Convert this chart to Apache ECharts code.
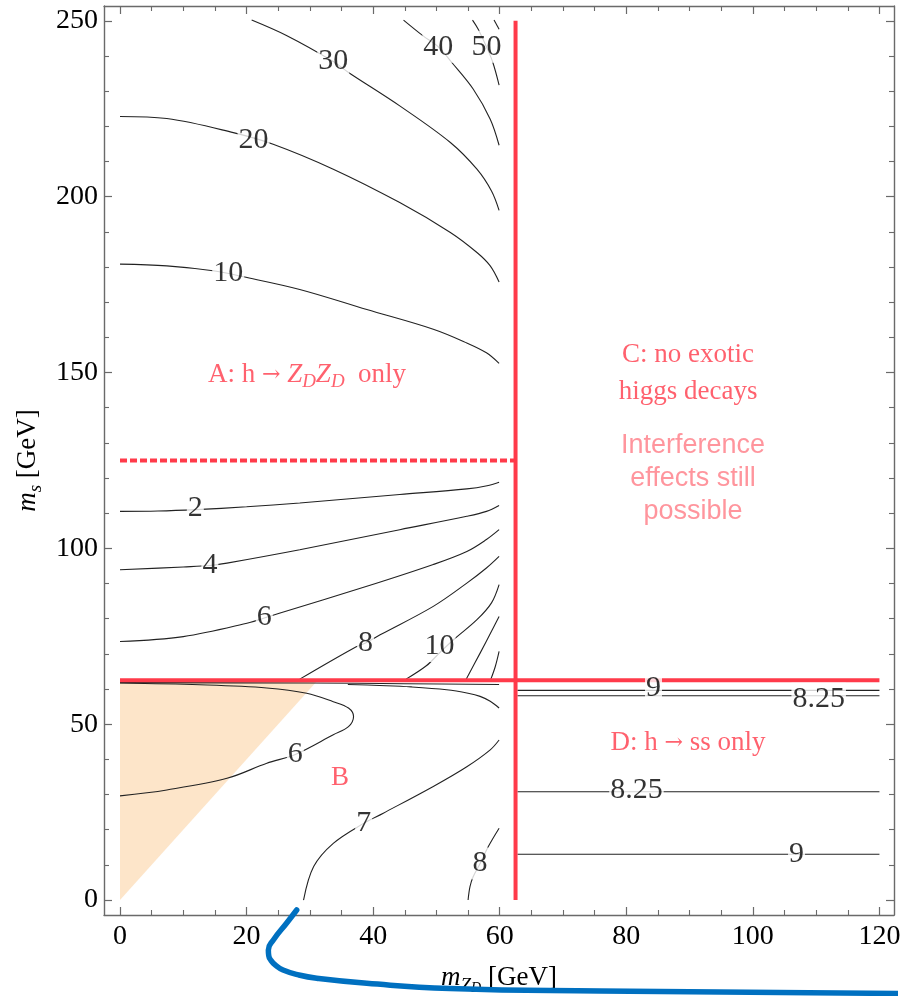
<!DOCTYPE html>
<html><head><meta charset="utf-8">
<script src="https://cdn.jsdelivr.net/npm/echarts@6/dist/echarts.min.js"></script>
<style>html,body{margin:0;padding:0;background:#fff}#c{width:900px;height:996px}</style>
</head><body><div id="c"></div>
<script>
// ---- axes ----
const X_RANGE = [-2.53, 122.3];
const Y_RANGE = [-4.26, 254.2];
const X_MAJOR = [0, 20, 40, 60, 80, 100, 120];
const X_MINOR = [5, 10, 15, 25, 30, 35, 45, 50, 55, 65, 70, 75, 85, 90, 95, 105, 110, 115];
const Y_MAJOR = [0, 50, 100, 150, 200, 250];
const Y_MINOR = [10, 20, 30, 40, 60, 70, 80, 90, 110, 120, 130, 140, 160, 170, 180, 190, 210, 220, 230, 240];

// ---- contour lines (region A, above the lines) ----
const c10 = [[0,180.8],[7.4,180.3],[14.7,178.9],[19.5,177.2],[28.4,173.6],[39,167.9],[49.5,162.3],[54.8,158.4],[57.9,155.6],[59.9,152.6]];
const c20 = [[0,222.8],[7.4,222.2],[17.9,218.2],[24.2,214.9],[33.7,207.8],[44.2,198.3],[52.2,189.8],[56.4,184.1],[58.5,180.3],[59.9,175.7]];
const c30 = [[20.8,250.2],[26.3,245.8],[33.7,238.4],[36.1,235.3],[44.2,225.8],[52.2,215.4],[56.4,207.8],[58.7,201.6],[59.9,196.1]];
const c40 = [[44.8,250.2],[47.9,245.7],[50.3,242.6],[52.4,238.2],[55.8,230.6],[58.5,222.0],[59.9,214.6]];
const c50 = [[55.7,250.2],[56.6,247.6],[57.9,242.6],[58.9,238.2],[59.9,231.7]];
const c50b = [[59.1,250.2],[59.9,247.6]];
const c2 = [[0,110.5],[6,110.6],[12,111.0],[20,111.8],[28.4,112.9],[44.2,115.3],[54.8,116.9],[58,117.8],[59.9,118.8]];
const c4 = [[0,93.9],[10,94.7],[14.2,95.1],[16.9,95.8],[28.4,99.6],[44.2,105.3],[54.8,109.1],[57.9,110.5],[59.9,112.2]];
const c6a = [[0,73.5],[10,74.9],[20.5,78.9],[22.8,80.2],[25.3,81.6],[39,89.2],[49.5,95.4],[54.8,99.1],[57.9,102.5],[59.9,105.3]];
const c8a = [[28.4,62.8],[36.9,71.6],[38.8,73.1],[41.1,75.4],[49.5,83.5],[54.8,90.1],[57.9,94.4],[59.9,97.7]];
const c10b = [[45.2,62.8],[48.4,66.6],[50.5,70.3],[52.7,74.0],[56.4,79.7],[58.7,84.5],[59.9,89.7]];
const c12 = [[54.7,62.8],[56.9,70.2],[58.7,76.4],[59.9,80.6]];
const c14 = [[58.6,62.8],[59.3,66.4],[59.9,70.7]];
// ---- region B ----
const c6b = [[0,61.7],[12.6,61.2],[23.2,60.3],[29.5,58.8],[33.7,56.4],[36.1,54.6],[36.9,52.2],[36.1,49.3],[33.7,47.0],[27.7,41.4],[23.2,38.9],[16.9,34.6],[7.4,31.3],[0,29.6]];
const cL1 = [[0,61.8],[30,61.7],[45,61.5],[59.9,61.3]];
const cL3 = [[36,61.3],[41,61.0],[46,60.6],[51.6,59.8],[55,58.8],[56.9,57.9],[58.5,56.5],[59.9,54.6]];
const c7 = [[29,0],[30.6,9.5],[33.7,16.1],[38.5,21.8],[41.6,24.7],[49.5,32.3],[54.8,37.9],[58.5,42.7],[59.9,45.5]];
const c8b = [[55.0,0],[55.3,3.8],[55.8,6.6],[56.9,10.4],[58.2,15.2],[59.9,20.4]];
// ---- region D ----
const c9a = [[62.8,59.6],[120,59.6]];
const c825a = [[62.8,58.1],[120,58.1]];
const c825b = [[62.8,30.8],[120,30.8]];
const c9b = [[62.8,13.0],[120,13.0]];
const CONTOURS = [c10,c20,c30,c40,c50,c50b,c2,c4,c6a,c8a,c10b,c12,c14,c6b,cL1,cL3,c7,c8b,c9a,c825a,c825b,c9b];

// contour labels [x, y, text]
const CONTOUR_LABELS = [[17.1,178.2,'10'],[21.1,216.1,'20'],[33.7,238.4,'30'],[50.3,242.6,'40'],[57.9,242.6,'50'],
  [11.9,111.4,'2'],[14.2,95.1,'4'],[22.8,80.3,'6'],[38.8,73.1,'8'],[50.5,72.2,'10'],
  [27.7,41.4,'6'],[38.5,21.9,'7'],[56.9,10.4,'8'],
  [84.3,60.2,'9'],[110.4,57.2,'8.25'],[81.6,31.3,'8.25'],[106.9,13.0,'9']];

// boundary lines
const V_LINE = [[62.5,0],[62.5,250]];
const H_LINE = [[0,62.5],[120,62.5]];
const H_DASH = [[0,125],[62.5,125]];
// kinematic triangle
const TRI = [[0,0],[0,62.5],[31.25,62.5]];
// blue annotation stroke
const BLUE = [[27.92,-2.84],[26.34,-6.54],[24.23,-11.37],[23.44,-14.22],[23.5,-15.8],[23.81,-17.06],[24.6,-18.6],[25.76,-19.9],[28.2,-21.3],[31.08,-22.26],[38.99,-23.69],[52.15,-25.16],[75.85,-25.87],[123.26,-26.58]];

// region texts [x, y]
const POS_A = [29.55,149.3];
const POS_C = [89.76,149.7];
const POS_INT = [90.55,119.9];
const POS_B = [34.77,34.7];
const POS_D = [89.76,44.55];

const SERIF = 'Liberation Serif';
const RED = '#ff3a4a';
const AXC = '#6a6a6a';

function majorX(pos, labels){
  return {gridIndex:0, type:'value', position:pos, min:X_RANGE[0], max:X_RANGE[1],
    axisLine:{show:true,onZero:false,lineStyle:{color:AXC,width:1.4}},
    axisTick:{show:true,inside:true,length:8,customValues:X_MAJOR,lineStyle:{color:AXC,width:1.2}},
    axisLabel:{show:labels,customValues:X_MAJOR,fontFamily:SERIF,fontSize:28,color:'#000',margin:8},
    splitLine:{show:false}};
}
function minorX(pos){
  return {gridIndex:1, type:'value', position:pos, min:X_RANGE[0], max:X_RANGE[1],
    axisLine:{show:false,onZero:false},
    axisTick:{show:true,inside:true,length:5,customValues:X_MINOR,lineStyle:{color:AXC,width:1.1}},
    axisLabel:{show:false}, splitLine:{show:false}};
}
function majorY(pos, labels){
  return {gridIndex:0, type:'value', position:pos, min:Y_RANGE[0], max:Y_RANGE[1],
    axisLine:{show:true,onZero:false,lineStyle:{color:AXC,width:1.4}},
    axisTick:{show:true,inside:true,length:8,customValues:Y_MAJOR,lineStyle:{color:AXC,width:1.2}},
    axisLabel:{show:labels,customValues:Y_MAJOR,fontFamily:SERIF,fontSize:28,color:'#000',margin:6},
    splitLine:{show:false}};
}
function minorY(pos){
  return {gridIndex:1, type:'value', position:pos, min:Y_RANGE[0], max:Y_RANGE[1],
    axisLine:{show:false,onZero:false},
    axisTick:{show:true,inside:true,length:5,customValues:Y_MINOR,lineStyle:{color:AXC,width:1.1}},
    axisLabel:{show:false}, splitLine:{show:false}};
}

const xb = majorX('bottom', true);
xb.name = '{i|m}{s|Z}{ss|D}{n| [GeV]}';
xb.nameLocation = 'middle';
xb.nameGap = 46;
xb.nameTextStyle = {fontFamily:SERIF,fontSize:27,color:'#000',rich:{
  i:{fontFamily:SERIF,fontStyle:'italic',fontSize:27,lineHeight:34},
  s:{fontFamily:SERIF,fontStyle:'italic',fontSize:19,lineHeight:34,verticalAlign:'bottom'},
  ss:{fontFamily:SERIF,fontStyle:'italic',fontSize:14,lineHeight:34,verticalAlign:'bottom'},
  n:{fontFamily:SERIF,fontSize:27,lineHeight:34}}};
const yl = majorY('left', true);
yl.name = '{i|m}{s|s}{n| [GeV]}';
yl.nameLocation = 'middle';
yl.nameGap = 58;
yl.nameRotate = 90;
yl.nameTextStyle = {fontFamily:SERIF,fontSize:27,color:'#000',rich:{
  i:{fontFamily:SERIF,fontStyle:'italic',fontSize:27,lineHeight:34},
  s:{fontFamily:SERIF,fontStyle:'italic',fontSize:19,lineHeight:34,verticalAlign:'bottom'},
  n:{fontFamily:SERIF,fontSize:27,lineHeight:34}}};

const series = [];
series.push({type:'custom', xAxisIndex:0, yAxisIndex:0, data:[0], z:1, silent:true,
  renderItem:(params, api)=>({type:'polygon', shape:{points:TRI.map(p=>api.coord(p))}, style:{fill:'#fde5c9'}})});
CONTOURS.forEach(d=>series.push({type:'line', xAxisIndex:0, yAxisIndex:0, data:d, smooth:0.35, symbol:'none',
  lineStyle:{color:'#222',width:1.1}, z:2, silent:true}));
[[V_LINE,'solid'],[H_LINE,'solid'],[H_DASH,[7,3]]].forEach(([d,t])=>series.push({type:'line', xAxisIndex:0, yAxisIndex:0,
  data:d, symbol:'none', lineStyle:{color:RED,width:4,type:t}, z:3, silent:true}));
series.push({type:'scatter', xAxisIndex:0, yAxisIndex:0, symbolSize:0, z:4, silent:true,
  data:CONTOUR_LABELS.map(d=>({value:[d[0],d[1]], name:d[2]})),
  label:{show:true, position:'inside', formatter:'{b}', fontFamily:SERIF, fontSize:30, color:'#000',
    backgroundColor:'#fff', padding:[2,1,0,1]}});
const redText = {fontFamily:SERIF, fontSize:27, color:RED};
series.push({type:'scatter', xAxisIndex:0, yAxisIndex:0, symbolSize:0, z:4, silent:true,
  data:[
    {value:POS_A, label:{formatter:'{n|A: h }{a|\u2192}{n| }{i|Z}{s|D}{i|Z}{s|D}{n|  only}', rich:{
      n:{fontFamily:SERIF,fontSize:27,color:RED,lineHeight:34},
      a:{fontFamily:'DejaVu Serif',fontSize:22,color:RED,lineHeight:34},
      i:{fontFamily:SERIF,fontSize:27,fontStyle:'italic',color:RED,lineHeight:34},
      s:{fontFamily:SERIF,fontSize:19,fontStyle:'italic',color:RED,lineHeight:34,verticalAlign:'bottom'}}}},
    {value:POS_C, label:Object.assign({formatter:'C: no exotic\nhiggs decays', lineHeight:37, align:'center'}, redText)},
    {value:POS_INT, label:{formatter:'Interference\neffects still\npossible', fontFamily:'Liberation Sans', fontSize:27,
      color:'#ff7a84', lineHeight:33, align:'center'}},
    {value:POS_B, label:Object.assign({formatter:'B'}, redText)},
    {value:POS_D, label:{formatter:'{n|D: h }{a|\u2192}{n| ss only}', rich:{
      n:{fontFamily:SERIF,fontSize:27,color:RED},
      a:{fontFamily:'DejaVu Serif',fontSize:22,color:RED}}}}
  ],
  label:{show:true, position:'inside'}});
series.push({type:'line', xAxisIndex:0, yAxisIndex:0, data:BLUE, smooth:0.5, symbol:'none', clip:false,
  lineStyle:{color:'#0070c0', width:5.5, cap:'round'}, z:6, silent:true});

const chart = echarts.init(document.getElementById('c'), null, {renderer:'canvas'});
chart.setOption({
  animation:false,
  backgroundColor:'#fff',
  grid:[{left:104,right:6,top:6,bottom:81,outerBoundsMode:'none',containLabel:false},
        {left:104,right:6,top:6,bottom:81,outerBoundsMode:'none',containLabel:false}],
  xAxis:[xb, majorX('top', false), minorX('bottom'), minorX('top')],
  yAxis:[yl, majorY('right', false), minorY('left'), minorY('right')],
  series
});
</script></body></html>
